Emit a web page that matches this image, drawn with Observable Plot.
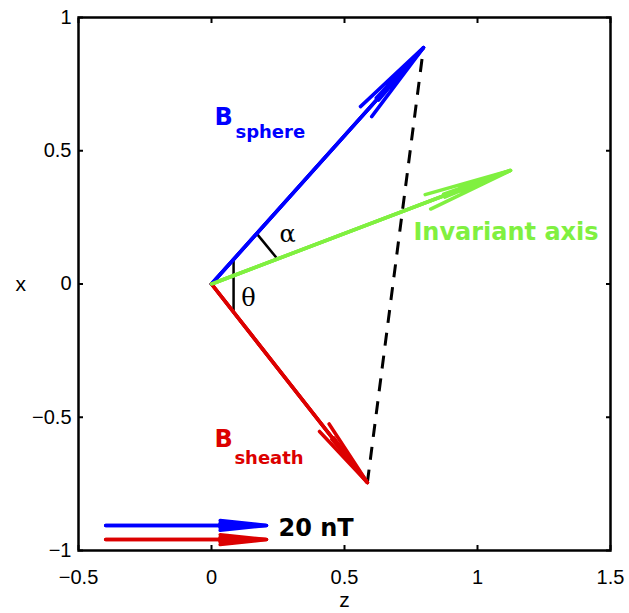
<!DOCTYPE html>
<html><head><meta charset="utf-8">
<script src="https://cdn.jsdelivr.net/npm/d3@7"></script>
<script src="https://cdn.jsdelivr.net/npm/@observablehq/plot@0.6"></script>
<style>body{margin:0;background:#fff}</style>
</head><body><div id="chart"></div>
<script>
// Vectors (z, x components, normalised)
const vectorNames = ["Bsphere", "Bsheath", "Invariant axis"];
const vectorZ = [0.797, 0.586, 1.124];
const vectorX = [0.887, -0.745, 0.426];

// 20 nT scale arrows
const scaleNames = ["sphere", "sheath"];
const scaleZStart = [-0.398, -0.398];
const scaleZEnd = [0.207, 0.207];
const scaleX = [-0.906, -0.959];
const scaleText = "20 nT";

// Angle markers
const thetaZ = [0.083, 0.083];
const thetaX = [0.092, -0.106];
const alphaZ = [0.170, 0.248];
const alphaX = [0.189, 0.094];

// Ticks
const xTicks = [-0.5, 0, 0.5, 1, 1.5];
const xTickLabels = ["−0.5", "0", "0.5", "1", "1.5"];
const yTicks = [-1, -0.5, 0, 0.5, 1];
const yTickLabels = ["−1", "−0.5", "0", "0.5", "1"];

const blue = "#0000ff", red = "#dc0000", green = "#80f040";
const colors = [blue, red, green];
const headLens = [37, 30, 38];

const vectors = vectorNames.map((n, i) => ({name: n, z: vectorZ[i], x: vectorX[i]}));
const scales = scaleNames.map((n, i) => ({name: n, z1: scaleZStart[i], z2: scaleZEnd[i], x: scaleX[i]}));
const xFmt = d => xTickLabels[xTicks.indexOf(d)];
const yFmt = d => yTickLabels[yTicks.indexOf(d)];
const annFont = "DejaVu Sans";

const marks = [
  Plot.axisX(xTicks, {anchor: "bottom", tickSize: -5, tickPadding: 24, tickFormat: xFmt, fontSize: 20, strokeWidth: 2, label: null}),
  Plot.axisX(xTicks, {anchor: "top", tickSize: -5, tickFormat: () => "", strokeWidth: 2, label: null}),
  Plot.axisY(yTicks, {anchor: "left", tickSize: -5, tickPadding: 12, tickFormat: yFmt, fontSize: 20, strokeWidth: 2, label: null}),
  Plot.axisY(yTicks, {anchor: "right", tickSize: -5, tickFormat: () => "", strokeWidth: 2, label: null}),
  Plot.frame({stroke: "black", strokeWidth: 2.5}),
  Plot.text(["x"], {frameAnchor: "left", dx: -63, text: d => d, fontSize: 21}),
  Plot.text(["z"], {frameAnchor: "bottom", dy: 56, text: d => d, fontSize: 21}),
  // dashed line between tips
  Plot.link([0], {x1: () => vectorZ[1], y1: () => vectorX[1], x2: () => vectorZ[0], y2: () => vectorX[0], stroke: "black", strokeWidth: 3, strokeDasharray: "13,10"}),
  // angle markers
  Plot.link([0], {x1: () => thetaZ[0], y1: () => thetaX[0], x2: () => thetaZ[1], y2: () => thetaX[1], stroke: "black", strokeWidth: 2.5}),
  Plot.link([0], {x1: () => alphaZ[0], y1: () => alphaX[0], x2: () => alphaZ[1], y2: () => alphaX[1], stroke: "black", strokeWidth: 2.5}),
  ...vectors.map((v, i) => Plot.arrow([v], {x1: 0, y1: 0, x2: "z", y2: "x", stroke: colors[i], strokeWidth: 3.5, headAngle: 10, headLength: headLens[i]})),
  ...vectors.map((v, i) => Plot.arrow([v], {x1: 0, y1: 0, x2: "z", y2: "x", stroke: colors[i], strokeWidth: 3.5, headAngle: 5, headLength: headLens[i] * 0.6})),
  ...vectors.map((v, i) => Plot.arrow([v], {x1: 0, y1: 0, x2: "z", y2: "x", stroke: colors[i], strokeWidth: 3.5, headAngle: 2.5, headLength: headLens[i] * 0.8})),
  ...scales.map((s, i) => Plot.arrow([s], {x1: "z1", y1: "x", x2: "z2", y2: "x", stroke: [blue, red][i], strokeWidth: 3.5, headAngle: 12, headLength: 20})),
  ...scales.map((s, i) => Plot.arrow([s], {x1: "z1", y1: "x", x2: "z2", y2: "x", stroke: [blue, red][i], strokeWidth: 3.5, headAngle: 5, headLength: 20})),
  // labels
  Plot.text(["B"], {x: 0.011, y: 0.598, text: d => d, fill: blue, fontSize: 24, fontWeight: "bold", fontFamily: annFont, textAnchor: "start", lineAnchor: "bottom"}),
  Plot.text(["sphere"], {x: 0.090, y: 0.546, text: d => d, fill: blue, fontSize: 18, fontWeight: "bold", fontFamily: annFont, textAnchor: "start", lineAnchor: "bottom"}),
  Plot.text(["B"], {x: 0.011, y: -0.613, text: d => d, fill: red, fontSize: 24, fontWeight: "bold", fontFamily: annFont, textAnchor: "start", lineAnchor: "bottom"}),
  Plot.text(["sheath"], {x: 0.086, y: -0.674, text: d => d, fill: red, fontSize: 18, fontWeight: "bold", fontFamily: annFont, textAnchor: "start", lineAnchor: "bottom"}),
  Plot.text([vectorNames[2]], {x: 0.759, y: 0.164, text: d => d, fill: green, fontSize: 24, fontWeight: "bold", fontFamily: annFont, textAnchor: "start", lineAnchor: "bottom"}),
  Plot.text([scaleText], {x: 0.252, y: -0.947, text: d => d, fill: "black", fontSize: 24, fontWeight: "bold", fontFamily: annFont, textAnchor: "start", lineAnchor: "bottom"}),
  Plot.text(["α"], {x: 0.286, y: 0.186, text: d => d, fill: "black", fontSize: 24, fontFamily: "DejaVu Serif", lineAnchor: "middle"}),
  Plot.text(["θ"], {x: 0.139, y: -0.054, text: d => d, fill: "black", fontSize: 24, fontFamily: "DejaVu Serif", lineAnchor: "middle"})
];

const chart = Plot.plot({
  width: 629, height: 613,
  marginLeft: 78, marginRight: 19, marginTop: 17, marginBottom: 63,
  x: {domain: [-0.5, 1.5]},
  y: {domain: [-1, 1]},
  style: {fontFamily: "Liberation Sans", fontSize: "20px", color: "black", background: "white"},
  marks
});
document.getElementById("chart").appendChild(chart);
</script>
</body></html>
